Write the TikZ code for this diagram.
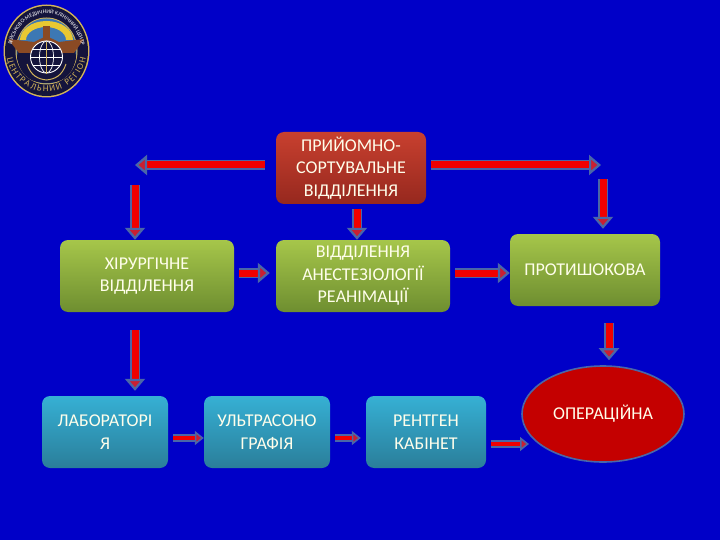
\documentclass[tikz,border=0pt]{standalone}
\usepackage{fontspec}
\setmainfont{Carlito}
\usetikzlibrary{arrows.meta,decorations.text,shapes.geometric}
\definecolor{bgBlue}{HTML}{0000C8}
\definecolor{recvTop}{HTML}{C8402F}
\definecolor{recvBot}{HTML}{96281E}
\definecolor{greenTop}{HTML}{A6C64A}
\definecolor{greenBot}{HTML}{6E8E30}
\definecolor{blueTop}{HTML}{36B0D4}
\definecolor{blueBot}{HTML}{2A7E9A}
\definecolor{opRed}{HTML}{C40000}
\definecolor{arrowRed}{HTML}{F00000}
\definecolor{arrowEdge}{HTML}{4A66A8}
\definecolor{emGold}{HTML}{D2B45A}
\definecolor{emNavy}{HTML}{14143C}
\definecolor{emBrown}{HTML}{8A4A24}
\definecolor{emYellow}{HTML}{E8C832}
\definecolor{emSky}{HTML}{3C78B4}
\tikzset{
  boxtext/.style={rounded corners=8pt,align=center,text=white!92!yellow,inner sep=0pt,font=\fontsize{18}{22.5}\selectfont},
  recvbox/.style={boxtext,top color=recvTop,bottom color=recvBot,minimum width=150pt,minimum height=72pt},
  greenbox/.style={boxtext,top color=greenTop,bottom color=greenBot,minimum height=72pt},
  bluebox/.style={boxtext,top color=blueTop,bottom color=blueBot,minimum height=72pt},
  bigarrow/.style={draw=arrowEdge,line width=1.5pt,double=arrowRed,double distance=7pt,
    -{Triangle[width=20pt,length=12pt,fill=red!70!arrowEdge,color=arrowEdge,line width=2.2pt]}},
  smallarrow/.style={draw=arrowEdge,line width=1.4pt,double=arrowRed,double distance=4.5pt,
    -{Triangle[width=14pt,length=9pt,fill=red!70!arrowEdge,color=arrowEdge,line width=1.6pt]}},
}

\begin{document}
\begin{tikzpicture}[x=1pt,y=-1pt]
  \useasboundingbox (0,0) rectangle (720,540);
  \fill[bgBlue] (0,0) rectangle (720,540);

  % emblem
  \fill[emGold] (46.5,51) ellipse [x radius=43,y radius=46.5];
  \fill[emNavy] (46.5,51) ellipse [x radius=41.5,y radius=45];
  \fill[emGold] (46.5,51) ellipse [x radius=31,y radius=33.5];
  \fill[emSky] (46.5,51) ellipse [x radius=30,y radius=32.5];
  \fill[emYellow] (20,40) arc [start angle=180,end angle=360,x radius=26.5,y radius=19] -- (66,40) arc [start angle=360,end angle=180,x radius=20,y radius=13] -- cycle;
  \fill[emNavy] (18,44) -- (75,44) -- (76,58) .. controls (72,78) and (60,83) .. (46.5,83) .. controls (33,83) and (21,78) .. (17,58) -- cycle;
  \fill[emBrown] (8,39) -- (34,42) -- (46.5,36) -- (59,42) -- (84,39) -- (74,53) -- (19,53) -- cycle;
  \fill[emBrown] (43,26) rectangle (50,38);
  \fill[emNavy] (46.5,57) circle [radius=16];
  \draw[white,line width=0.9pt] (46.5,57) circle [radius=16];
  \draw[white,line width=0.7pt] (46.5,57) ellipse [x radius=7,y radius=16];
  \draw[white,line width=0.7pt] (30.5,57) -- (62.5,57);
  \draw[white,line width=0.7pt] (33,49) -- (60,49);
  \draw[white,line width=0.7pt] (33,65) -- (60,65);
  \draw[emGold,line width=1pt] (46.5,42) -- (46.5,74);
  \draw[emGold,line width=1pt] (27,64) .. controls (31,76) and (38,79) .. (46.5,80) .. controls (55,79) and (62,76) .. (66,64);
  \path[postaction={decorate,decoration={text along path,text align=fit to path,
      text={|\fontsize{5.6}{6}\selectfont\color{white}|ВІЙСЬКОВО-МЕДИЧНИЙ КЛІНІЧНИЙ ЦЕНТР}}}]
    (12,45) arc [start angle=190,end angle=350,x radius=35,y radius=38];
  \path[postaction={decorate,decoration={text along path,text align=fit to path,
      text={|\fontsize{9}{9}\selectfont\color{emGold}|ЦЕНТРАЛЬНИЙ РЕГІОН}}}]
    (7,58) arc [start angle=170,end angle=10,x radius=40,y radius=41];

  % boxes
  \node[recvbox] (recv) at (351,168) {ПРИЙОМНО-\\СОРТУВАЛЬНЕ\\ВІДДІЛЕННЯ};
  \node[greenbox,minimum width=174pt] (surg) at (147,276) {ХІРУРГІЧНЕ\\ВІДДІЛЕННЯ};
  \node[greenbox,minimum width=174pt] (anest) at (363,276) {ВІДДІЛЕННЯ\\АНЕСТЕЗІОЛОГІЇ\\РЕАНІМАЦІЇ};
  \node[greenbox,minimum width=150pt] (shock) at (585,270) {ПРОТИШОКОВА};
  \node[bluebox,minimum width=126pt] (lab) at (105,432) {ЛАБОРАТОРІ\\Я};
  \node[bluebox,minimum width=126pt] (echo) at (267,432) {УЛЬТРАСОНО\\ГРАФІЯ};
  \node[bluebox,minimum width=120pt] (xray) at (426,432) {РЕНТГЕН\\КАБІНЕТ};
  \node[ellipse,draw=arrowEdge,line width=1.6pt,fill=opRed,minimum width=162pt,minimum height=96pt,inner sep=0pt,
    text=white!92!yellow,font=\fontsize{18}{22.5}\selectfont] (oper) at (603,414) {ОПЕРАЦІЙНА};

  % free ends of the two long arrows
  \coordinate (turnLeft) at (135,165);
  \coordinate (turnRight) at (603,165);

  \draw[bigarrow,shorten <=11pt] ([yshift=3pt]recv.west) -- (turnLeft);
  \draw[bigarrow,shorten <=5pt] ([yshift=3pt]recv.east) -- ([xshift=-2pt]turnRight);
  \draw[bigarrow,shorten <=20pt] (turnLeft) -- (turnLeft |- surg.north);
  \draw[bigarrow,shorten <=14pt,shorten >=5pt] (turnRight) -- (turnRight |- shock.north);
  \draw[bigarrow,shorten <=5pt] ([xshift=6pt]recv.south) -- ([xshift=-6pt]anest.north);
  \draw[bigarrow,shorten <=5pt,shorten >=6pt] ([yshift=3pt]surg.east) -- ([yshift=3pt]anest.west);
  \draw[bigarrow,shorten <=5pt] ([yshift=3pt]anest.east) -- ([yshift=-3pt]shock.west);
  \draw[bigarrow,shorten <=17pt,shorten >=5pt] ([xshift=24pt]shock.south) -- ([xshift=6pt]oper.north);
  \draw[bigarrow,shorten <=18pt,shorten >=5pt] ([xshift=-12pt]surg.south) -- ([xshift=30pt]lab.north);
  \draw[smallarrow,shorten <=5pt] ([yshift=-6pt]lab.east) -- ([yshift=-6pt]echo.west);
  \draw[smallarrow,shorten <=5pt,shorten >=5pt] ([yshift=-6pt]echo.east) -- ([yshift=-6pt]xray.west);
  \draw[smallarrow,shorten <=5pt] ([yshift=-12pt]xray.east) -- (529,444);
\end{tikzpicture}
\end{document}
